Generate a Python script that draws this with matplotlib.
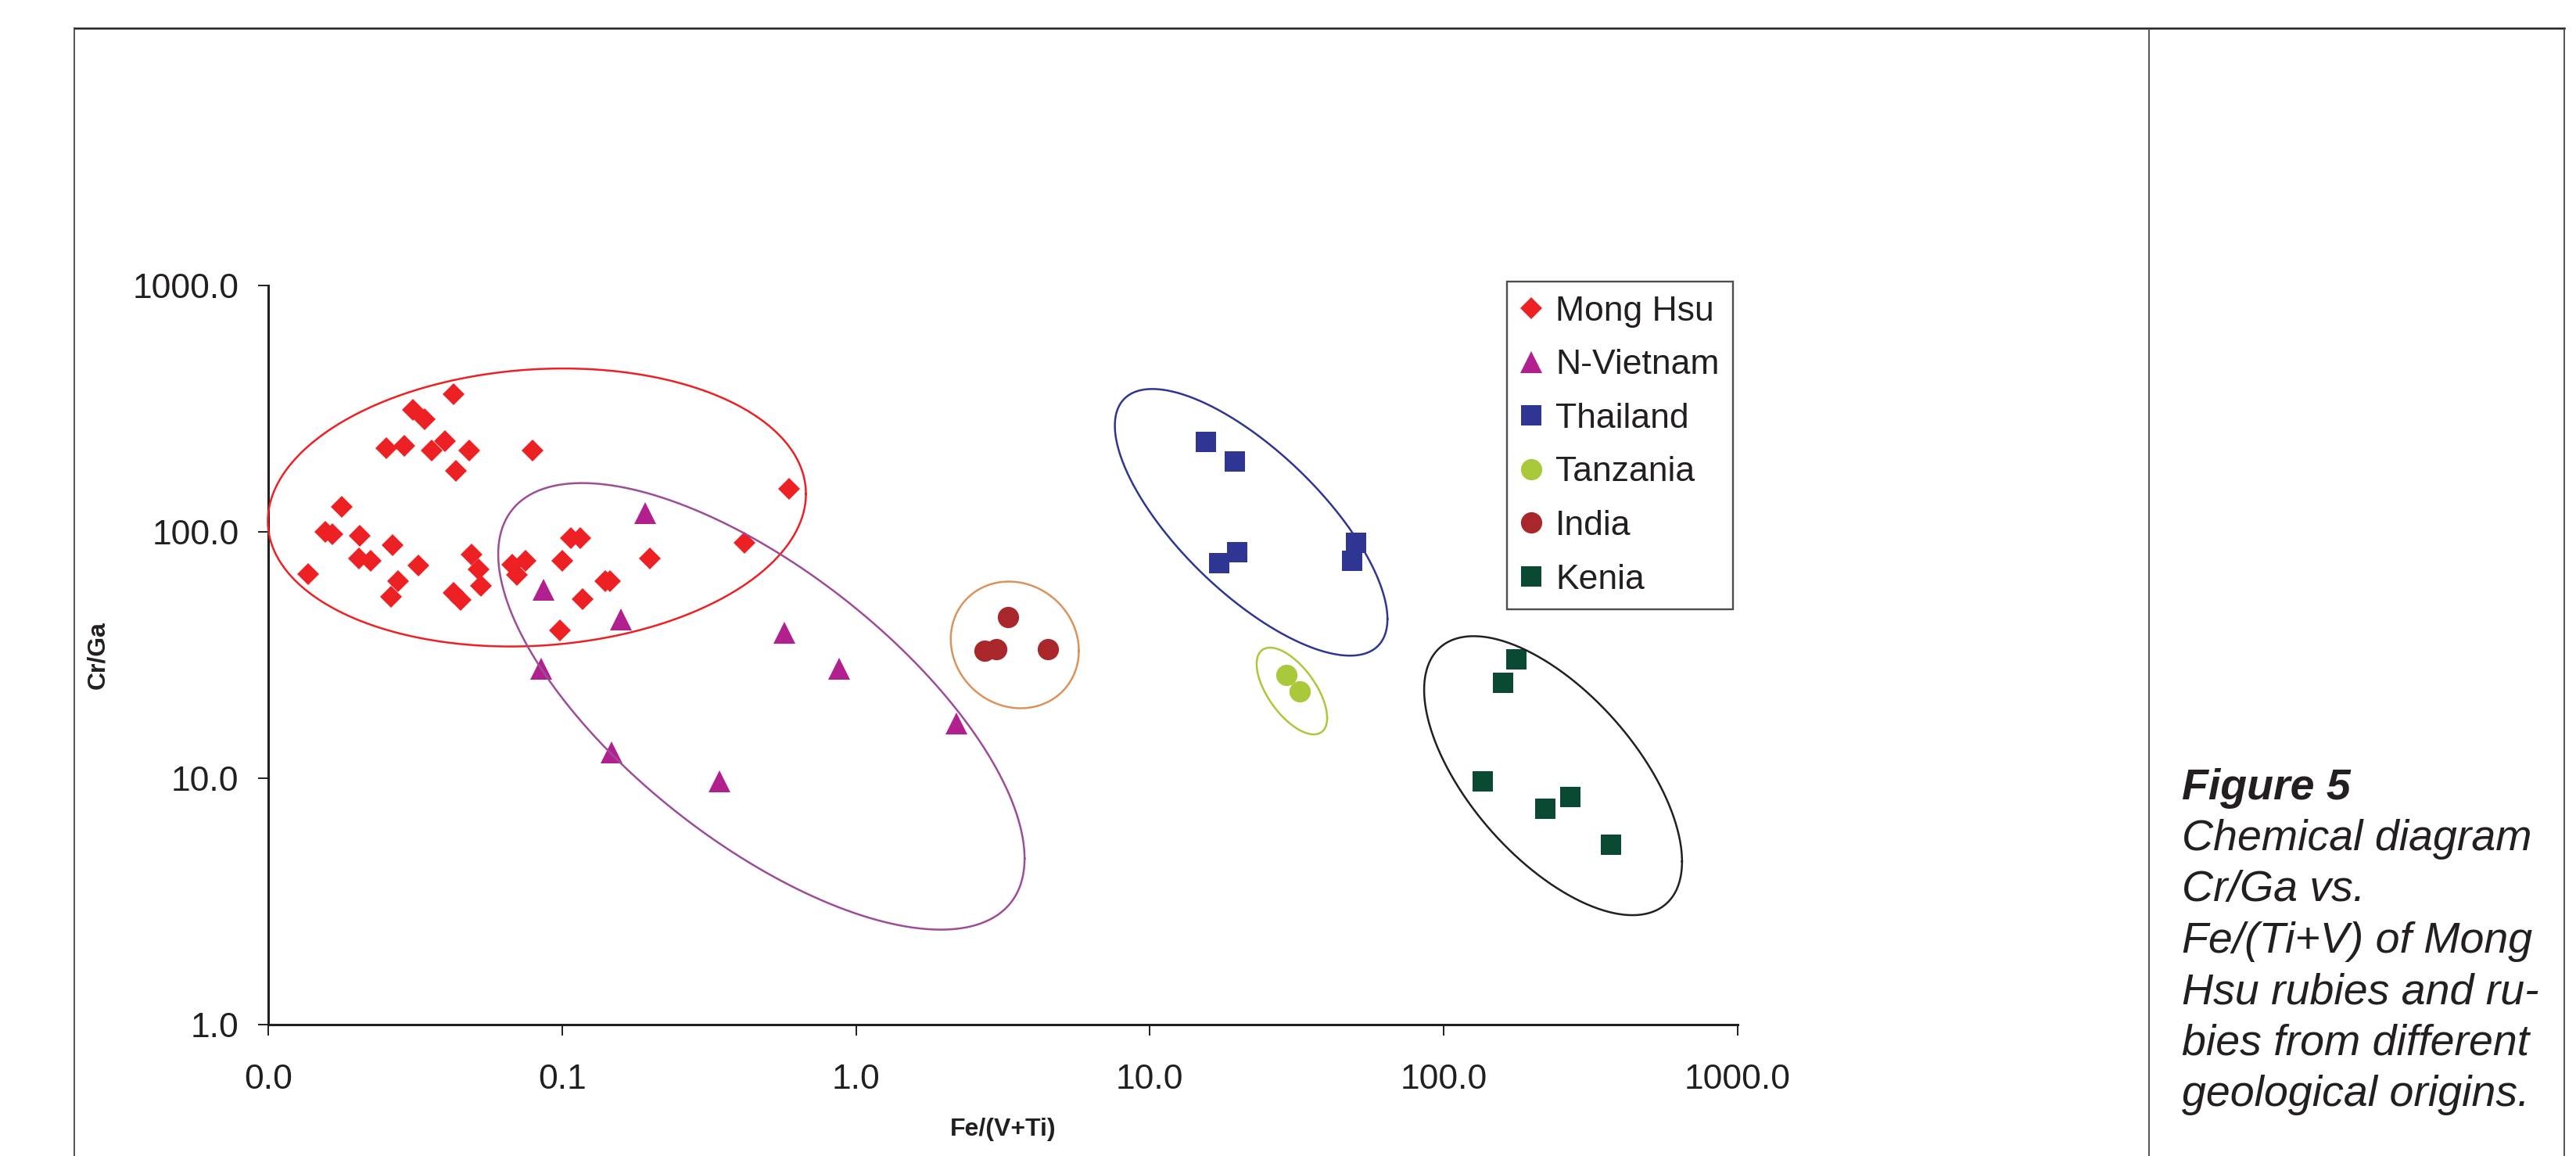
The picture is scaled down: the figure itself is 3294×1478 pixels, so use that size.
"""Cr/Ga vs Fe/(V+Ti) diagram for Mong Hsu rubies and other origins."""

import numpy as np
import matplotlib
matplotlib.use('Agg')
import matplotlib.pyplot as plt
from matplotlib.lines import Line2D
from matplotlib.ticker import NullLocator

plt.rcParams['font.family'] = ['Liberation Sans', 'DejaVu Sans']

INK = '#231f20'

# ---- data (Fe/(V+Ti), Cr/Ga) ----
mong_x = [0.0427, 0.0310, 0.0340, 0.0252, 0.0289, 0.0358, 0.0398, 0.0483, 0.0792,
          0.0435, 0.592, 0.0177, 0.0156, 0.0165, 0.0204, 0.0265, 0.0203, 0.0223,
          0.0136, 0.0323, 0.0275, 0.0261, 0.0427, 0.0451, 0.0491, 0.0519, 0.0528,
          0.0674, 0.0751, 0.0699, 0.107, 0.115, 0.0999, 0.198, 0.140, 0.145,
          0.117, 0.098, 0.416]
mong_y = [360.8, 311.0, 286.0, 217.5, 222.3, 212.7, 232.2, 213.2, 213.2,
          176.3, 148.7, 126.3, 99.9, 97.8, 95.9, 88.1, 77.6, 75.9,
          67.1, 72.8, 63.0, 54.3, 56.3, 52.9, 80.8, 70.1, 60.2,
          73.5, 75.9, 66.7, 93.8, 93.8, 75.9, 77.6, 62.8, 62.8,
          53.1, 39.6, 89.8]

viet_x = [0.191, 0.0865, 0.158, 0.570, 0.0848, 0.875, 2.19, 0.147, 0.342]
viet_y = [118.5, 58.1, 44.1, 38.9, 27.8, 27.8, 16.7, 12.7, 9.69]

thai_x = [15.5, 19.5, 17.2, 19.8, 50.5, 48.8]
thai_y = [231.6, 192.0, 74.4, 82.6, 90.0, 75.9]

tanz_x = [29.2, 32.4]
tanz_y = [26.1, 22.4]

india_x = [3.29, 2.74, 3.01, 4.51]
india_y = [44.9, 32.9, 33.3, 33.3]

kenia_x = [177.0, 159.5, 135.9, 222.5, 270.6, 371.5]
kenia_y = [30.2, 24.4, 9.67, 7.52, 8.36, 5.36]

x_ticks = [0.01, 0.1, 1, 10, 100, 1000]
y_ticks = [1, 10, 100, 1000]

# group outlines: centre (data), half-width / half-height in decades, xy term
rings = [
    (0.0819, 125.2, 0.916, 0.564, 0.0507, '#ed2024'),
    (0.476, 19.53, 0.896, 0.906, -0.553, '#9c4d96'),
    (3.47, 34.68, 0.218, 0.257, -0.0052, '#d9935e'),
    (22.13, 109.0, 0.464, 0.541, -0.182, '#2e3592'),
    (30.46, 22.54, 0.120, 0.176, -0.0131, '#a9c93a'),
    (236.0, 10.22, 0.439, 0.566, -0.153, INK),
]

caption = ['Figure 5', 'Chemical diagram', 'Cr/Ga vs.', 'Fe/(Ti+V) of Mong',
           'Hsu rubies and ru-', 'bies from different', 'geological origins.']

W, H, DPI = 3294, 1478, 200
fig = plt.figure(figsize=(W / DPI, H / DPI), dpi=DPI, facecolor='white')
ax = fig.add_axes([0.10428, 0.11380, 0.57013, 0.63958])

series = [
    (mong_x, mong_y, 'Mong Hsu', 'D', '#ed2024', 7.1),
    (viet_x, viet_y, 'N-Vietnam', '^', '#b21f8e', 9.9),
    (thai_x, thai_y, 'Thailand', 's', '#2e3592', 9.7),
    (tanz_x, tanz_y, 'Tanzania', 'o', '#a9c93a', 9.8),
    (india_x, india_y, 'India', 'o', '#a9262b', 9.8),
    (kenia_x, kenia_y, 'Kenia', 's', '#0a4a32', 9.7),
]
for xs, ys, name, mk, col, ms in series:
    ax.plot(xs, ys, ls='none', marker=mk, ms=ms, color=col, mew=0,
            label=name, zorder=3)

t = np.linspace(0, 2 * np.pi, 400)
for cx, cy, hw, hh, sxy, col in rings:
    L = np.linalg.cholesky(np.array([[hw * hw, sxy], [sxy, hh * hh]]))
    d = L @ np.vstack([np.cos(t), np.sin(t)])
    ax.plot(10 ** (np.log10(cx) + d[0]), 10 ** (np.log10(cy) + d[1]),
            color=col, lw=0.9, zorder=4, clip_on=False)

ax.set_xscale('log')
ax.set_yscale('log')
ax.set_xlim(x_ticks[0], x_ticks[-1])
ax.set_ylim(y_ticks[0], y_ticks[-1])
ax.set_xticks(x_ticks)
ax.set_xticklabels([f'{v:.1f}' for v in x_ticks])
ax.set_yticks(y_ticks)
ax.set_yticklabels([f'{v:.1f}' for v in y_ticks])
ax.xaxis.set_minor_locator(NullLocator())
ax.yaxis.set_minor_locator(NullLocator())

for s in ['top', 'right']:
    ax.spines[s].set_visible(False)
for s in ['left', 'bottom']:
    ax.spines[s].set_linewidth(1.1)
    ax.spines[s].set_color(INK)
ax.tick_params(axis='x', length=5.2, width=0.7, color=INK, labelcolor=INK,
               labelsize=16, pad=13)
ax.tick_params(axis='y', length=4.7, width=0.7, color=INK, labelcolor=INK,
               labelsize=16, pad=9)

ax.set_xlabel('Fe/(V+Ti)', fontsize=11.5, fontweight='bold', color=INK, va='center')
ax.xaxis.set_label_coords(0.5, -0.142)
ax.set_ylabel('Cr/Ga', fontsize=11.5, fontweight='bold', color=INK, va='center')
ax.yaxis.set_label_coords(-0.1163, 0.5)

leg = ax.legend(loc='upper left', bbox_to_anchor=(0.8432, 1.0048), borderaxespad=0,
                fontsize=16, numpoints=1, frameon=True, fancybox=False,
                borderpad=0.4, handlelength=0.6, handletextpad=0.4,
                labelspacing=0.62)
leg.get_frame().set_edgecolor(INK)
leg.get_frame().set_linewidth(0.85)
for txt in leg.get_texts():
    txt.set_color(INK)

# outer page frame
fx = lambda px: px / W
fy = lambda py: 1 - py / H
fig.add_artist(Line2D([fx(94.5), fx(3279)], [fy(36), fy(36)], color=INK, lw=0.9,
                      transform=fig.transFigure))
for px in [94.5, 2748, 3279]:
    fig.add_artist(Line2D([fx(px), fx(px)], [fy(36), 0], color='#444444', lw=0.65,
                          transform=fig.transFigure))

# caption
for i, line in enumerate(caption):
    fig.text(fx(2790), fy(1021.6 + 65.4 * i), line, fontsize=20, style='italic',
             fontweight='bold' if i == 0 else 'normal', color=INK, va='baseline')

fig.savefig('out.png', dpi=DPI, facecolor='white')
